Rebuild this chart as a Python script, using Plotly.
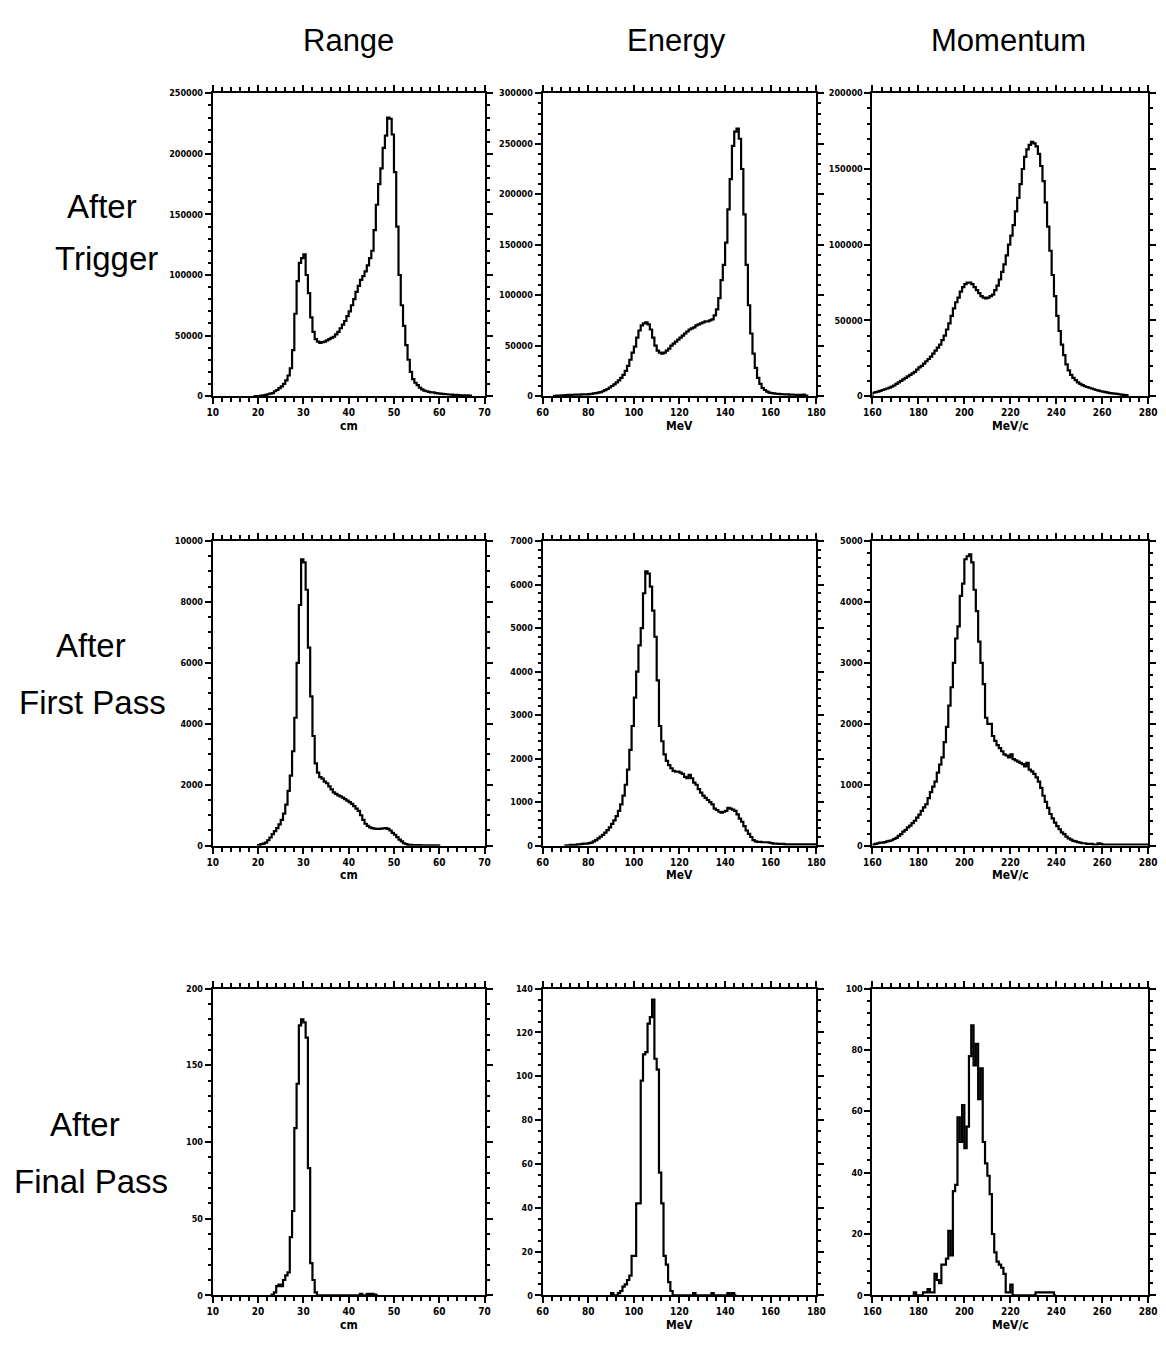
import plotly.graph_objects as go

# ---------------- data (histogram bin contents) ----------------
# Range [cm], bin width 0.5 cm
RANGE_BIN_W = 0.5
RANGE_TRIG_X0 = 19.0
RANGE_TRIG_K = [0, 0, 0, 0.3, 0.5, 1, 1.5, 2, 2.5, 4, 5, 6.5, 8, 10, 13, 17, 23, 38, 68, 95,
                110, 114, 117, 100, 85, 65, 53, 47, 45, 44, 44.5, 45, 46, 47, 48, 49, 51, 53, 56, 59,
                62, 66, 70, 75, 80, 86, 91, 96, 99, 103, 108, 114, 120, 137, 158, 175, 188, 205, 215, 230,
                229, 216, 185, 140, 100, 75, 58, 42, 30, 20, 14, 11, 9, 7, 5.5, 4.5, 4, 3.5, 3, 3,
                2.5, 2.2, 2, 1.8, 1.6, 1.5, 1.3, 1.2, 1, 1, 0.8, 0.7, 0.6, 0.5, 0.5, 0.3]  # thousands

RANGE_FIRST_X0 = 20.0
RANGE_FIRST_K = [0.02, 0.05, 0.07, 0.1, 0.18, 0.27, 0.38, 0.48, 0.58, 0.7, 0.85, 1.05, 1.35, 1.8, 2.3,
                 3.1, 4.2, 6.0, 7.9, 9.4, 9.3, 8.4, 6.5, 4.9, 3.6, 2.7, 2.4, 2.25, 2.2, 2.1,
                 2.05, 1.95, 1.85, 1.75, 1.7, 1.65, 1.62, 1.58, 1.53, 1.48, 1.43, 1.37, 1.3, 1.22, 1.14,
                 1.0, 0.85, 0.72, 0.65, 0.6, 0.58, 0.56, 0.55, 0.55, 0.56, 0.57, 0.58, 0.55, 0.5, 0.42,
                 0.36, 0.28, 0.2, 0.14, 0.08, 0.05, 0.03, 0.03, 0.02, 0.02, 0.02, 0.02, 0.01, 0.01,
                 0.01, 0.01, 0.01, 0.01, 0.01, 0.01]  # thousands

RANGE_FINAL_X0 = 23.0
RANGE_FINAL = [0.5, 2, 6, 7, 6, 10, 13, 15, 38, 55, 109, 138, 176, 180, 178, 168, 83, 21, 10, 2,
               0, 0, 0, 0, 0, 0, 0, 0, 0, 0, 0, 0, 0, 0, 0, 0, 0, 0, 0, 1,
               0, 0, 1, 1, 1, 0.5, 0]

# Energy [MeV], bin width 1 MeV
ENERGY_BIN_W = 1.0
ENERGY_TRIG_X0 = 65.0
ENERGY_TRIG_K = [0.3, 0.4, 0.5, 0.6, 0.8, 1.0, 1.1, 1.2, 1.3, 1.4, 1.5, 1.5, 1.6, 1.6, 1.7,
                 1.9, 2.2, 2.6, 3.0, 3.5, 4.0, 4.8, 5.8, 7.0, 8.5, 10, 11.5, 13.5, 15.5, 18,
                 21, 25, 30, 36, 43, 49, 58, 65, 70, 72, 73, 71, 66, 58, 50,
                 45, 43, 42, 43, 45, 47, 50, 52, 54, 56, 58, 60, 62, 64, 66,
                 67, 68, 70, 71, 72, 73, 74, 74, 75, 76, 80, 86, 97, 115, 130,
                 152, 185, 215, 248, 262, 265, 255, 225, 180, 130, 90, 62, 42, 28, 18,
                 12, 8, 6, 4.5, 3.5, 3, 2.6, 2.3, 2.1, 1.9, 1.8, 1.7, 1.6, 1.5, 1.4,
                 1.3, 1.2, 1.1, 1.0, 1.5, 0.5]  # thousands

ENERGY_FIRST_X0 = 70.0
ENERGY_FIRST_K = [0.01, 0.01, 0.02, 0.02, 0.02, 0.03, 0.03, 0.04, 0.05, 0.05,
                  0.06, 0.07, 0.1, 0.13, 0.17, 0.21, 0.25, 0.3, 0.36, 0.42,
                  0.5, 0.58, 0.68, 0.8, 0.95, 1.15, 1.4, 1.75, 2.2, 2.75,
                  3.4, 4.0, 4.6, 5.0, 5.8, 6.3, 6.25, 5.95, 5.4, 4.8,
                  3.8, 2.75, 2.4, 2.1, 1.95, 1.85, 1.78, 1.72, 1.7, 1.7,
                  1.68, 1.65, 1.58, 1.55, 1.63, 1.55, 1.45, 1.4, 1.3, 1.22,
                  1.15, 1.1, 1.05, 1.0, 0.95, 0.85, 0.82, 0.78, 0.76, 0.78,
                  0.8, 0.87, 0.85, 0.83, 0.8, 0.72, 0.62, 0.55, 0.45, 0.35,
                  0.27, 0.2, 0.13, 0.1, 0.09, 0.09, 0.08, 0.08, 0.08, 0.07,
                  0.06, 0.05, 0.05, 0.04, 0.04, 0.04, 0.03, 0.03, 0.03, 0.03,
                  0.03, 0.03, 0.03, 0.03, 0.03, 0.03, 0.03, 0.03, 0.03, 0.03]  # thousands

ENERGY_FINAL_X0 = 90.0
ENERGY_FINAL = [1, 0, 0, 1, 2, 4, 5, 7, 9, 18, 18, 42, 42, 98, 110, 111, 124, 127, 135, 108,
                103, 56, 42, 18, 14, 6, 2, 0, 0, 0, 0, 0, 0, 0, 0, 0, 1, 0, 0, 0,
                0, 0, 0, 0, 1, 0, 0, 0, 0, 0, 0, 1, 0, 1, 0]

# Momentum [MeV/c], bin width 1 MeV/c
MOM_BIN_W = 1.0
MOM_TRIG_X0 = 160.0
MOM_TRIG_K = [2.2, 2.6, 3.0, 3.5, 4.0, 4.5, 5.0, 5.6, 6.2, 7.0,
              8.0, 9.0, 10, 11, 12, 13, 14, 15, 16, 17.5,
              19, 20, 21.5, 23, 24.5, 26, 28, 30, 32, 34,
              37, 40, 44, 48, 53, 58, 62, 65, 69, 72,
              74, 75, 75, 74, 72, 70, 68, 66, 65, 64.5,
              65, 66, 67, 70, 73, 77, 82, 87, 93, 100,
              106, 113, 122, 131, 140, 150, 158, 163, 166, 168,
              167, 165, 160, 152, 142, 128, 112, 96, 80, 66,
              53, 43, 34, 27, 21, 17, 14, 12, 10.5, 9,
              8, 7.2, 6.5, 6, 5.5, 5, 4.5, 4, 3.6, 3.2,
              2.9, 2.6, 2.3, 2.0, 1.8, 1.6, 1.4, 1.2, 1.0, 0.8, 0.6]  # thousands

MOM_FIRST_X0 = 160.0
MOM_FIRST_K = [0.02, 0.03, 0.04, 0.05, 0.05, 0.06, 0.07, 0.08, 0.09, 0.11,
               0.13, 0.16, 0.19, 0.23, 0.26, 0.3, 0.33, 0.37, 0.41, 0.46,
               0.51, 0.57, 0.63, 0.68, 0.78, 0.88, 0.97, 1.05, 1.2, 1.33,
               1.45, 1.7, 1.95, 2.3, 2.6, 3.0, 3.4, 3.6, 4.1, 4.3,
               4.7, 4.75, 4.78, 4.65, 4.2, 3.85, 3.35, 3.0, 2.65, 2.1,
               2.0, 2.0, 1.8, 1.72, 1.65, 1.6, 1.55, 1.5, 1.48, 1.45,
               1.5, 1.42, 1.4, 1.38, 1.36, 1.34, 1.3, 1.36, 1.25, 1.22,
               1.18, 1.12, 1.05, 0.95, 0.82, 0.72, 0.62, 0.52, 0.45, 0.38,
               0.32, 0.27, 0.22, 0.19, 0.15, 0.12, 0.1, 0.08, 0.07, 0.06,
               0.05, 0.04, 0.04, 0.03, 0.03, 0.03, 0.02, 0.02, 0.04, 0.03,
               0.02, 0.02, 0.02, 0.02, 0.02, 0.02, 0.02, 0.02, 0.02, 0.02,
               0.02, 0.02, 0.02, 0.02, 0.02, 0.02, 0.02, 0.02, 0.02, 0.02]  # thousands

MOM_FINAL_X0 = 178.0
MOM_FINAL = [1, 0, 0, 0, 1, 1, 2, 1, 1, 7, 5, 4, 10, 10, 12, 21, 13, 34, 36, 58,
             50, 62, 48, 55, 78, 88, 75, 82, 64, 74, 50, 43, 39, 33, 20, 14, 11, 10, 9, 7,
             1, 1, 3.5, 0, 0, 0, 0, 0, 0, 0, 0, 0, 0, 1, 1, 1, 1, 1, 1, 1, 1, 0]

COLUMN_TITLES = ["Range", "Energy", "Momentum"]
ROW_TITLES = [("After", "Trigger"), ("After", "First Pass"), ("After", "Final Pass")]
X_UNITS = ["cm", "MeV", "MeV/c"]

X_RANGES = [(10, 70), (60, 180), (160, 280)]
X_DTICK = [10, 20, 20]
X_MINOR = [2, 4, 4]
Y_RANGES = [[250000, 300000, 200000], [10000, 7000, 5000], [200, 140, 100]]
Y_DTICK = [[50000, 50000, 50000], [2000, 1000, 1000], [50, 20, 20]]
Y_MINOR = [[10000, 10000, 10000], [500, 200, 200], [10, 5, 4]]

# ---------------- layout geometry (pixels) ----------------
W, H = 1166, 1348
COL_PX = [(207, 483), (542, 820), (877, 1157)]
ROW_PX = [(89, 394), (540, 847), (991, 1300)]

panels = [
    [(RANGE_TRIG_X0, RANGE_BIN_W, [v * 1000 for v in RANGE_TRIG_K]),
     (ENERGY_TRIG_X0, ENERGY_BIN_W, [v * 1000 for v in ENERGY_TRIG_K]),
     (MOM_TRIG_X0, MOM_BIN_W, [v * 1000 for v in MOM_TRIG_K])],
    [(RANGE_FIRST_X0, RANGE_BIN_W, [v * 1000 for v in RANGE_FIRST_K]),
     (ENERGY_FIRST_X0, ENERGY_BIN_W, [v * 1000 for v in ENERGY_FIRST_K]),
     (MOM_FIRST_X0, MOM_BIN_W, [v * 1000 for v in MOM_FIRST_K])],
    [(RANGE_FINAL_X0, RANGE_BIN_W, RANGE_FINAL),
     (ENERGY_FINAL_X0, ENERGY_BIN_W, ENERGY_FINAL),
     (MOM_FINAL_X0, MOM_BIN_W, MOM_FINAL)],
]


def step_xy(x0, w, vals):
    xs = [x0]
    ys = [0]
    for i, v in enumerate(vals):
        xs.append(x0 + i * w)
        ys.append(v)
    xs.append(x0 + len(vals) * w)
    ys.append(vals[-1])
    xs.append(x0 + len(vals) * w)
    ys.append(0)
    return xs, ys


TICK_FONT = dict(family="DejaVu Sans Condensed, Liberation Sans Narrow, DejaVu Sans, sans-serif",
                 size=10, color="black", weight="bold")
COL_FONT = dict(family="Liberation Sans, Arial, sans-serif", size=31, color="black")
ROW_FONT = dict(family="Liberation Sans, Arial, sans-serif", size=33, color="black")

fig = go.Figure()
layout = dict(width=W, height=H, margin=dict(l=0, r=0, t=0, b=0),
              paper_bgcolor="white", plot_bgcolor="white", showlegend=False)
annotations = []

for r in range(3):
    for c in range(3):
        n = r * 3 + c + 1
        sfx = "" if n == 1 else str(n)
        x0, w, vals = panels[r][c]
        xs, ys = step_xy(x0, w, vals)
        fig.add_trace(go.Scatter(x=xs, y=ys, mode="lines", line=dict(color="black", width=2.2, shape="hv"),
                                 xaxis="x" + sfx, yaxis="y" + sfx, hoverinfo="skip"))
        px0, px1 = COL_PX[c]
        py0, py1 = ROW_PX[r]
        common = dict(showline=True, linecolor="black", linewidth=2, mirror="ticks", ticks="outside",
                      tickwidth=2, tickcolor="black", showgrid=False, zeroline=False,
                      tickfont=TICK_FONT, fixedrange=True)
        layout["xaxis" + sfx] = dict(
            domain=[px0 / W, px1 / W], anchor="y" + sfx, range=list(X_RANGES[c]),
            dtick=X_DTICK[c], tick0=X_RANGES[c][0], ticklen=6,
            minor=dict(dtick=X_MINOR[c], tick0=X_RANGES[c][0], ticks="outside", ticklen=4,
                       tickwidth=1.5, tickcolor="black"),
            **common)
        layout["yaxis" + sfx] = dict(
            domain=[1 - py1 / H, 1 - py0 / H], anchor="x" + sfx, range=[0, Y_RANGES[r][c]],
            dtick=Y_DTICK[r][c], tick0=0, ticklen=6, tickformat="d",
            minor=dict(dtick=Y_MINOR[r][c], ticks="outside", ticklen=3, tickwidth=1.5, tickcolor="black"),
            **common)
        layout["yaxis" + sfx]["tickfont"] = dict(TICK_FONT, size=9)
        # unit label under axis
        annotations.append(dict(text=X_UNITS[c], x=(px0 + px1) / 2 / W, y=1 - (py1 + 30) / H,
                                xref="paper", yref="paper", showarrow=False, xanchor="center",
                                yanchor="middle", font=dict(TICK_FONT, size=12)))

COL_CENTER = [345, 678, 1015]
for c, t in enumerate(COLUMN_TITLES):
    annotations.append(dict(text=t, x=COL_CENTER[c] / W, y=1 - 36 / H, xref="paper", yref="paper",
                            showarrow=False, xanchor="center", yanchor="middle", font=COL_FONT))

ROW_LABEL_POS = [((94, 203), (99, 255)), ((83, 645), (85, 703)), ((77, 1128), (83, 1185))]
for r, (l1, l2) in enumerate(ROW_TITLES):
    for txt, (cx, cy) in zip((l1, l2), ROW_LABEL_POS[r]):
        annotations.append(dict(text=txt, x=cx / W, y=1 - cy / H, xref="paper", yref="paper",
                                showarrow=False, xanchor="center", yanchor="middle", font=ROW_FONT))

layout["annotations"] = annotations
fig.update_layout(**layout)
fig.write_html("out.html")
